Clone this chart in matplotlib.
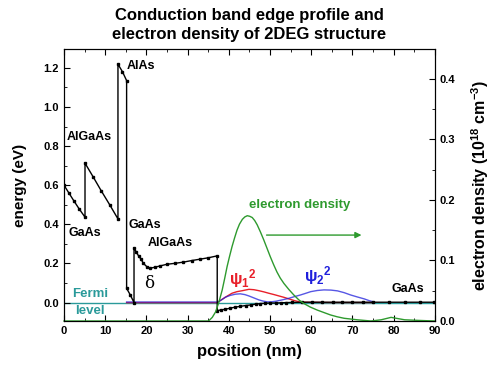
import matplotlib
matplotlib.use("Agg")
from matplotlib import pyplot as plt
from matplotlib.ticker import MultipleLocator, FormatStrFormatter

plt.rcParams['font.family'] = ['Liberation Sans', 'DejaVu Sans']
plt.rcParams['font.weight'] = 'bold'
plt.rcParams['mathtext.fontset'] = 'custom'
plt.rcParams['mathtext.rm'] = 'Liberation Sans:bold'
plt.rcParams['mathtext.it'] = 'Liberation Sans:bold'
plt.rcParams['mathtext.bf'] = 'Liberation Sans:bold'

# conduction band edge (eV)
band_x = [0, 1.2, 2.4, 3.65, 5.1, 5.1, 7.1, 9.0, 11.1, 13.1, 13.1, 14.2, 15.2,
          15.2, 16.1, 17.0, 17.0, 17.5, 18.1, 18.7, 19.3, 20.1, 20.9, 22.1, 23.4,
          25.0, 27.0, 29.0, 31.0, 33.0, 35.0, 37.2, 37.2, 38.2, 39.2, 40.4, 41.6,
          42.8, 44.1, 45.3, 46.5, 47.7, 48.9, 50.1, 51.4, 52.6, 53.8, 55.4, 57.9,
          60.3, 62.7, 65.2, 67.6, 70.0, 72.5, 74.9, 78.8, 82.8, 86.5, 89.9]
band_e = [0.60, 0.56, 0.52, 0.48, 0.437, 0.713, 0.642, 0.573, 0.50, 0.428, 1.219,
          1.18, 1.135, 0.073, 0.039, 0.0, 0.281, 0.26, 0.239, 0.222, 0.20, 0.184,
          0.176, 0.181, 0.188, 0.196, 0.201, 0.207, 0.215, 0.222, 0.229, 0.239,
          -0.041, -0.037, -0.034, -0.028, -0.023, -0.019, -0.015, -0.012, -0.008,
          -0.005, -0.003, -0.002, -0.002, -0.001, 0.0, 0.001, 0.002, 0.002, 0.002,
          0.002, 0.002, 0.002, 0.002, 0.002, 0.002, 0.002, 0.002, 0.002]

# wave functions
psi1_x = [15.2, 37.2, 38.4, 39.6, 40.8, 42.0, 43.3, 44.9, 46.1, 47.3, 48.5, 49.7,
          51.0, 52.2, 53.4, 54.6, 56.0, 57.5, 65.0, 75.0]
psi1_e = [0, 0, 0.017, 0.033, 0.048, 0.056, 0.061, 0.068, 0.066, 0.061, 0.055,
          0.048, 0.041, 0.034, 0.027, 0.019, 0.010, 0.002, 0.0, 0.0]

psi2_x = [15.2, 37.2, 37.6, 38.4, 39.2, 40.4, 41.6, 42.8, 43.9, 44.9, 46.1, 47.3,
          48.3, 49.3, 50.3, 51.4, 53.0, 54.6, 56.0, 57.4, 58.6, 59.9, 61.5, 63.1,
          64.8, 66.4, 68.0, 69.6, 71.2, 72.9, 74.1, 75.3]
psi2_e = [0.003, 0.003, 0.006, 0.016, 0.028, 0.037, 0.043, 0.045, 0.041, 0.034,
          0.024, 0.014, 0.008, 0.004, 0.004, 0.007, 0.014, 0.022, 0.031, 0.039,
          0.047, 0.056, 0.062, 0.065, 0.064, 0.060, 0.051, 0.039, 0.029, 0.019,
          0.010, 0.003]

# electron density (1e18 cm^-3)
dens_x = [0, 35.1, 36.0, 36.8, 37.6, 38.4, 39.0, 39.6, 40.2, 40.8, 41.4, 42.0,
          42.6, 43.3, 43.9, 44.5, 45.1, 45.7, 46.3, 46.9, 47.7, 48.5, 49.3, 50.1,
          50.9, 51.7, 52.5, 53.4, 54.6, 55.8, 57.0, 58.2, 59.8, 61.5, 63.1, 64.7,
          66.3, 68.0, 71.2, 74.5, 77.0, 79.4, 82.7, 86.0, 90.0]
dens_n = [0, 0, 0.006, 0.015, 0.031, 0.051, 0.07, 0.09, 0.107, 0.123, 0.137,
          0.150, 0.160, 0.168, 0.172, 0.174, 0.173, 0.171, 0.166, 0.159, 0.147,
          0.134, 0.120, 0.106, 0.093, 0.081, 0.071, 0.062, 0.052, 0.043, 0.035,
          0.029, 0.023, 0.018, 0.014, 0.010, 0.007, 0.0045, 0.002, 0.0, 0.002,
          0.006, 0.002, 0.001, 0.0]

fig = plt.figure(figsize=(4.96, 3.74), dpi=100)
ax = fig.add_axes([64 / 496, 53 / 374, 370.7 / 496, 271.7 / 374])

teal = '#2a9a9a'
ax.axhline(0, color=teal, lw=1, zorder=1)
ax.plot(psi1_x, psi1_e, color='#e8202a', lw=1, zorder=2)
ax.plot(psi2_x, psi2_e, color='#1f1fdc', lw=1, alpha=0.75, zorder=3)
ax.plot(band_x, band_e, color='black', lw=1, marker='s', ms=2, zorder=4)

ax.set_xlim(0, 90)
ax.set_ylim(-0.094, 1.295)
ax.xaxis.set_major_locator(MultipleLocator(10))
ax.xaxis.set_minor_locator(MultipleLocator(5))
ax.yaxis.set_major_locator(MultipleLocator(0.2))
ax.yaxis.set_minor_locator(MultipleLocator(0.1))
ax.yaxis.set_major_formatter(FormatStrFormatter('%.1f'))
ax.tick_params(which='both', direction='in', top=True, right=False, labelsize=8)
ax.tick_params(which='major', length=4)
ax.tick_params(which='minor', length=2.5)
ax.set_xlabel('position (nm)', fontsize=12, fontweight='bold', labelpad=6)
ax.set_ylabel('energy (eV)', fontsize=11, fontweight='bold', labelpad=12)

ax2 = ax.twinx()
ax2.plot(dens_x, dens_n, color='#2e9a2e', lw=1, clip_on=False)
ax2.set_ylim(0, 0.449)
ax2.yaxis.set_major_locator(MultipleLocator(0.1))
ax2.yaxis.set_minor_locator(MultipleLocator(0.05))
ax2.yaxis.set_major_formatter(FormatStrFormatter('%.1f'))
ax2.tick_params(which='both', direction='in', labelsize=8)
ax2.tick_params(which='major', length=4)
ax2.tick_params(which='minor', length=2.5)
ax2.set_ylabel(r'electron density (10$^{18}$ cm$^{-3}$)', fontsize=11.5,
               fontweight='bold', labelpad=10)
ax2.annotate('', xy=(72.9, 0.142), xytext=(48.5, 0.142),
             arrowprops=dict(arrowstyle='-|>', color='#2e9a2e', lw=1,
                             mutation_scale=9))

# labels
ax.text(15.2, 1.21, 'AlAs', fontsize=9, va='center')
ax.text(0.65, 0.845, 'AlGaAs', fontsize=9, va='center')
ax.text(1.05, 0.356, 'GaAs', fontsize=9, va='center')
ax.text(15.65, 0.397, 'GaAs', fontsize=9, va='center')
ax.text(20.3, 0.304, 'AlGaAs', fontsize=9, va='center')
ax.text(79.4, 0.068, 'GaAs', fontsize=9, va='center')
ax.text(20.8, 0.099, 'δ', fontsize=12, fontweight='normal',
        family='DejaVu Serif', ha='center', va='center')
ax.text(6.3, 0.044, 'Fermi', fontsize=9.5, color=teal, ha='center', va='center')
ax.text(6.2, -0.042, 'level', fontsize=9.5, color=teal, ha='center', va='center')
ax.text(57.2, 0.50, 'electron density', fontsize=9.5, color='#2e9a2e',
        ha='center', va='center')
ax.text(40.0, 0.121, r'$\psi_1{}^2$', fontsize=12, color='#e8202a', va='center')
ax.text(58.3, 0.138, r'$\psi_2{}^2$', fontsize=12, color='#1f1fdc', va='center')

fig.text(249 / 496, 1 - 25 / 374,
         'Conduction band edge profile and\nelectron density of 2DEG structure',
         ha='center', va='center', fontsize=12, fontweight='bold', linespacing=1.4)

fig.savefig('out.png', dpi=100)
